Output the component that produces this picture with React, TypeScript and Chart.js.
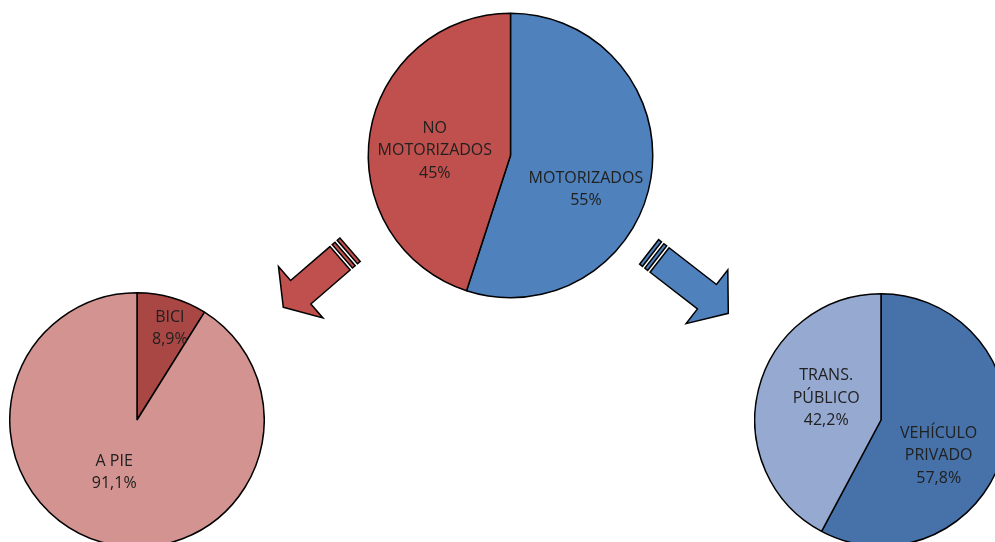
import React, { useEffect, useRef } from "react";
import { Chart, registerables } from "chart.js";

Chart.register(...registerables);

// ---- data ----
const topLabels = ["MOTORIZADOS", "NO\nMOTORIZADOS"];
const topValues = [55, 45];
const topValueText = ["55%", "45%"];
const topColors = ["#4F81BD", "#C0504D"];

const leftLabels = ["BICI", "A PIE"];
const leftValues = [8.9, 91.1];
const leftValueText = ["8,9%", "91,1%"];
const leftColors = ["#A94744", "#D39391"];

const rightLabels = ["VEHÍCULO\nPRIVADO", "TRANS.\nPÚBLICO"];
const rightValues = [57.8, 42.2];
const rightValueText = ["57,8%", "42,2%"];
const rightColors = ["#4672A9", "#95A9D1"];

// label placement relative to pie centre, as a fraction of the radius
const topLabelPos = [[0.53, 0.24], [-0.532, -0.035]];
const leftLabelPos = [[0.258, -0.72], [-0.179, 0.413]];
const rightLabelPos = [[0.457, 0.282], [-0.434, -0.172]];

const FONT = "16px 'Open Sans'";
const LINE_H = 22.5;

function makeLabelPlugin(labels: string[], valueText: string[], pos: number[][]) {
  return {
    id: "sliceLabels",
    afterDatasetsDraw(chart: any) {
      const meta = chart.getDatasetMeta(0);
      const ctx = chart.ctx as CanvasRenderingContext2D;
      ctx.save();
      ctx.font = FONT;
      ctx.fillStyle = "#202020";
      ctx.textAlign = "center";
      ctx.textBaseline = "middle";
      meta.data.forEach((arc: any, i: number) => {
        const r = arc.outerRadius;
        const cx = arc.x + pos[i][0] * r;
        const cy = arc.y + pos[i][1] * r;
        const lines = [...labels[i].split("\n"), valueText[i]];
        const start = cy - ((lines.length - 1) * LINE_H) / 2;
        lines.forEach((ln, k) => ctx.fillText(ln, cx, start + k * LINE_H));
      });
      ctx.restore();
    },
  };
}

function drawArrow(
  ctx: CanvasRenderingContext2D,
  tipX: number,
  tipY: number,
  angleDeg: number,
  headLen: number,
  shaftLen: number,
  color: string
) {
  const headW = 68;
  const shaftW = 31;
  const gap = 3;
  const stripe = 3.6;
  ctx.save();
  ctx.translate(tipX, tipY);
  ctx.rotate((angleDeg * Math.PI) / 180);
  ctx.fillStyle = color;
  ctx.strokeStyle = "#000";
  ctx.lineWidth = 1.5;
  ctx.lineJoin = "miter";
  // body
  ctx.beginPath();
  ctx.moveTo(0, 0);
  ctx.lineTo(-headLen, -headW / 2);
  ctx.lineTo(-headLen, -shaftW / 2);
  ctx.lineTo(-headLen - shaftLen, -shaftW / 2);
  ctx.lineTo(-headLen - shaftLen, shaftW / 2);
  ctx.lineTo(-headLen, shaftW / 2);
  ctx.lineTo(-headLen, headW / 2);
  ctx.closePath();
  ctx.fill();
  ctx.stroke();
  // stripes
  let x = -headLen - shaftLen - gap;
  for (let k = 0; k < 2; k++) {
    ctx.beginPath();
    ctx.rect(x - stripe, -shaftW / 2, stripe, shaftW);
    ctx.fill();
    ctx.stroke();
    x -= stripe + gap;
  }
  ctx.restore();
}

const arrowPlugin = {
  id: "arrows",
  afterDraw(chart: any) {
    const ctx = chart.ctx as CanvasRenderingContext2D;
    drawArrow(ctx, 283.3, 307.3, 139.2, 23, 52, "#C0504D");
    drawArrow(ctx, 728.3, 313.3, 37.8, 27, 60, "#4F81BD");
  },
};

function pieConfig(
  labels: string[],
  values: number[],
  colors: string[],
  padding: any,
  plugins: any[]
): any {
  return {
    type: "pie",
    data: {
      labels,
      datasets: [
        {
          data: values,
          backgroundColor: colors,
          borderColor: "#000000",
          borderWidth: 1.5,
          borderAlign: "center",
        },
      ],
    },
    options: {
      responsive: false,
      animation: false,
      events: [],
      layout: { padding },
      plugins: {
        legend: { display: false },
        tooltip: { enabled: false },
        title: { display: false },
      },
    },
    plugins,
  };
}

export default function App() {
  const topRef = useRef<HTMLCanvasElement>(null);
  const leftRef = useRef<HTMLCanvasElement>(null);
  const rightRef = useRef<HTMLCanvasElement>(null);

  useEffect(() => {
    const charts: Chart[] = [];
    if (topRef.current) {
      charts.push(
        new Chart(
          topRef.current,
          pieConfig(
            topLabels,
            topValues,
            topColors,
            { left: 367.5, right: 341.5, top: 12.5, bottom: 243.5 },
            [arrowPlugin, makeLabelPlugin(topLabels, topValueText, topLabelPos)]
          )
        )
      );
    }
    if (leftRef.current) {
      charts.push(
        new Chart(
          leftRef.current,
          pieConfig(leftLabels, leftValues, leftColors, 0, [
            makeLabelPlugin(leftLabels, leftValueText, leftLabelPos),
          ])
        )
      );
    }
    if (rightRef.current) {
      charts.push(
        new Chart(
          rightRef.current,
          pieConfig(rightLabels, rightValues, rightColors, 0, [
            makeLabelPlugin(rightLabels, rightValueText, rightLabelPos),
          ])
        )
      );
    }
    return () => charts.forEach((c) => c.destroy());
  }, []);

  return (
    <div
      style={{
        position: "fixed",
        left: 0,
        top: 0,
        width: 995,
        height: 542,
        overflow: "hidden",
        background: "#ffffff",
      }}
    >
      <canvas
        ref={leftRef}
        width={256}
        height={256}
        style={{ position: "absolute", left: 8.7, top: 292, width: 256, height: 256 }}
      />
      <canvas
        ref={rightRef}
        width={254}
        height={254}
        style={{ position: "absolute", left: 753.7, top: 293, width: 254, height: 254 }}
      />
      <canvas
        ref={topRef}
        width={995}
        height={542}
        style={{ position: "absolute", left: 0, top: 0, width: 995, height: 542 }}
      />
    </div>
  );
}
